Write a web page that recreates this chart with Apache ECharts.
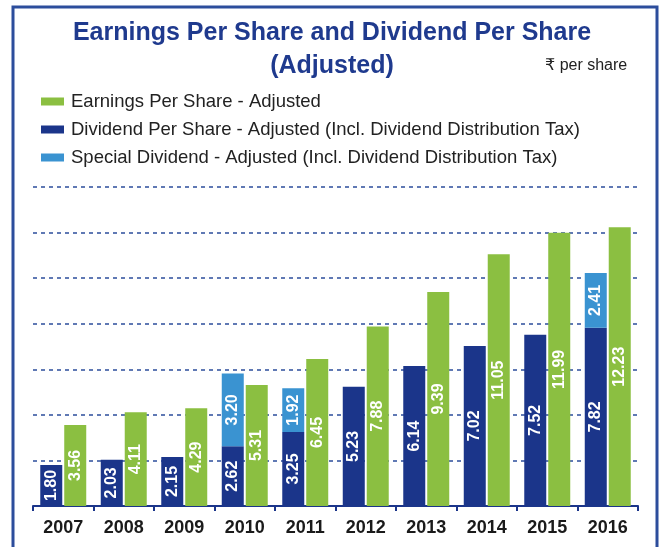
<!DOCTYPE html>
<html>
<head>
<meta charset="utf-8">
<script src="https://cdn.jsdelivr.net/npm/echarts@6/dist/echarts.min.js"></script>
<style>
  html, body { margin: 0; padding: 0; background: #fff; }
  #chart { width: 664px; height: 547px; }
</style>
</head>
<body>
<div id="chart"></div>
<script>
  // data
  var years = ['2007', '2008', '2009', '2010', '2011', '2012', '2013', '2014', '2015', '2016'];
  var eps = [3.56, 4.11, 4.29, 5.31, 6.45, 7.88, 9.39, 11.05, 11.99, 12.23];
  var dps = [1.80, 2.03, 2.15, 2.62, 3.25, 5.23, 6.14, 7.02, 7.52, 7.82];
  var special = [null, null, null, 3.20, 1.92, null, null, null, null, 2.41];
  var seriesNames = [
    'Earnings Per Share - Adjusted',
    'Dividend Per Share - Adjusted (Incl. Dividend Distribution Tax)',
    'Special Dividend - Adjusted (Incl. Dividend Distribution Tax)'
  ];

  var green = '#8bbf41';
  var navy = '#1b358a';
  var sky = '#3a93d1';
  var frame = '#2c4d9c';
  var font = 'Liberation Sans, Arial, sans-serif';

  var barLabel = {
    show: true,
    position: 'inside',
    rotate: 90,
    color: '#fff',
    fontSize: 16,
    fontWeight: 'bold',
    fontFamily: font,
    formatter: function(p) {
      return p.value == null ? '' : Number(p.value).toFixed(2);
    }
  };

  var titleStyle = {
    color: '#1f3a8e',
    fontSize: 25,
    fontWeight: 'bold',
    fontFamily: font
  };

  var myChart = echarts.init(document.getElementById('chart'));
  var option = {
    backgroundColor: '#fff',
    animation: false,
    title: [
      { text: 'Earnings Per Share and Dividend Per Share', left: 'center', top: 21, padding: 0, textStyle: titleStyle },
      { text: '(Adjusted)', left: 'center', top: 54, padding: 0, textStyle: titleStyle }
    ],
    graphic: [
      {
        type: 'rect',
        shape: { x: 13, y: 7, width: 644, height: 560 },
        style: { fill: 'none', stroke: frame, lineWidth: 3 },
        silent: true
      },
      {
        type: 'text',
        left: 545,
        top: 58,
        style: {
          text: '₹ per share',
          fill: '#222',
          fontSize: 16,
          fontFamily: 'Liberation Sans, DejaVu Sans, sans-serif'
        }
      }
    ],
    legend: {
      orient: 'vertical',
      left: 41,
      top: 92,
      padding: 0,
      itemGap: 9,
      itemWidth: 23,
      itemHeight: 8,
      icon: 'rect',
      data: seriesNames,
      textStyle: {
        color: '#222',
        fontSize: 18.5,
        padding: [0, 0, 0, 2],
        fontFamily: font
      }
    },
    grid: {
      left: 33,
      right: 26,
      top: 187,
      bottom: 41
    },
    xAxis: {
      type: 'category',
      data: years,
      axisLine: { show: true, lineStyle: { color: navy, width: 2 } },
      axisTick: { show: true, length: 5, lineStyle: { color: navy, width: 2 } },
      axisLabel: {
        color: '#1a1a1a',
        fontSize: 18,
        fontWeight: 'bold',
        margin: 13,
        fontFamily: font
      }
    },
    yAxis: {
      type: 'value',
      min: 0,
      max: 14,
      interval: 2,
      axisLabel: { show: false },
      axisLine: { show: false },
      axisTick: { show: false },
      splitLine: {
        show: true,
        lineStyle: { color: frame, width: 1.5, type: [4, 4] }
      }
    },
    series: [
      {
        name: seriesNames[1],
        type: 'bar',
        stack: 'div',
        barWidth: 22,
        barGap: '9%',
        itemStyle: { color: navy },
        label: barLabel,
        data: dps
      },
      {
        name: seriesNames[2],
        type: 'bar',
        stack: 'div',
        barWidth: 22,
        itemStyle: { color: sky },
        label: barLabel,
        data: special
      },
      {
        name: seriesNames[0],
        type: 'bar',
        barWidth: 22,
        barGap: '9%',
        itemStyle: { color: green },
        label: barLabel,
        data: eps
      }
    ]
  };
  myChart.setOption(option);
</script>
</body>
</html>
